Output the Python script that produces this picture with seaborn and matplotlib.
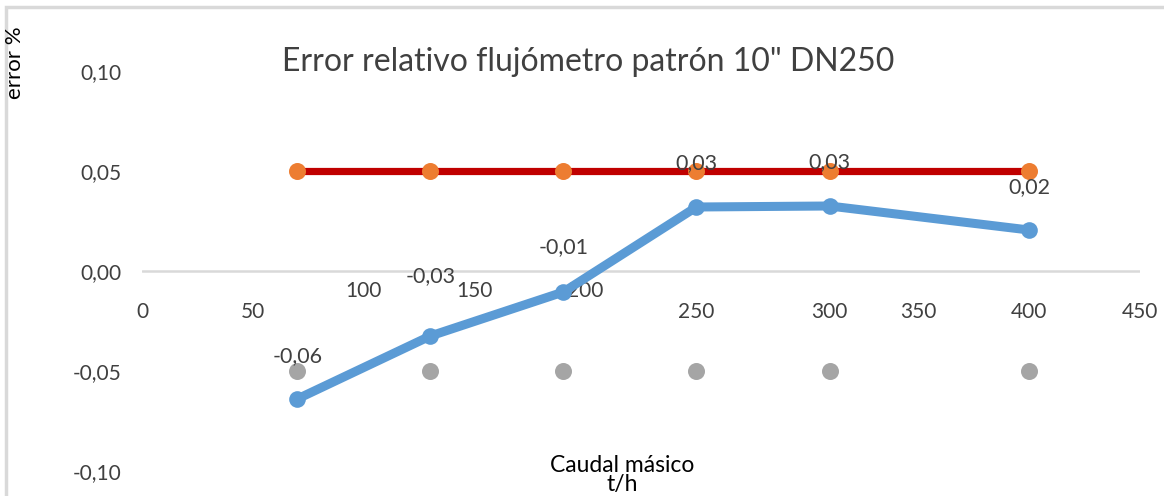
import matplotlib
matplotlib.use("Agg")
import matplotlib.pyplot as plt
from matplotlib.transforms import ScaledTranslation
from matplotlib.patches import Rectangle
import seaborn as sns
import pandas as pd

# Caudal másico (t/h) and relative error (%) of the reference flowmeter
caudal = [70, 130, 190, 250, 310, 400]
error_rel = [-0.064, -0.0325, -0.0105, 0.032, 0.0325, 0.0205]
etiquetas = ["-0,06", "-0,03", "-0,01", "0,03", "0,03", "0,02"]
limite_sup = [0.05, 0.05, 0.05, 0.05, 0.05, 0.05]
limite_inf = [-0.05, -0.05, -0.05, -0.05, -0.05, -0.05]

x_ticks = [0, 50, 100, 150, 200, 250, 300, 350, 400, 450]
y_ticks = [-0.10, -0.05, 0.00, 0.05, 0.10]

df = pd.DataFrame({"caudal": caudal, "error": error_rel,
                   "sup": limite_sup, "inf": limite_inf})

sns.set_theme(style="white")
plt.rcParams["font.family"] = ["Lato", "DejaVu Sans"]
txt = "#404040"

fig = plt.figure(figsize=(11.64, 4.96), dpi=100)
ax = fig.add_axes([142 / 1164, 25 / 496, 998 / 1164, 400 / 496])

# chart-area frame
fig.add_artist(Rectangle((6 / 1164, -0.1), 1.2, (496 - 7) / 496 + 0.1,
                         transform=fig.transFigure, fill=False,
                         edgecolor="#d9d9d9", linewidth=2.5))

# limit band: red line with orange markers, grey markers at the lower limit
sns.lineplot(data=df, x="caudal", y="sup", ax=ax, color="#C00000",
             linewidth=5.2, zorder=2)
sns.scatterplot(data=df, x="caudal", y="sup", ax=ax, color="#ED7D31",
                s=150, marker="o", linewidth=0, zorder=3)
sns.scatterplot(data=df, x="caudal", y="inf", ax=ax, color="#A5A5A5",
                s=150, marker="o", linewidth=0, zorder=3)

# measured relative error
sns.lineplot(data=df, x="caudal", y="error", ax=ax, color="#5B9BD5",
             linewidth=6.5, marker="o", markersize=12,
             markeredgewidth=0, zorder=4)

label_offsets = [(0, 43), (0, 60), (0, 45), (0, 44), (0, 44), (0, 43)]
for xv, yv, lab, (dx, dy) in zip(caudal, error_rel, etiquetas, label_offsets):
    ax.annotate(lab, (xv, yv), xytext=(dx, dy), textcoords="offset pixels",
                ha="center", va="center", fontsize=15.5, color=txt, zorder=5)

ax.set_xlim(0, 450)
ax.set_ylim(-0.10, 0.10)
ax.axhline(0, color="#d9d9d9", linewidth=1.8, zorder=1)

for s in ax.spines.values():
    s.set_visible(False)

ax.spines["bottom"].set_position(("data", 0))
ax.set_xticks(x_ticks)
ax.set_xticklabels([str(v) for v in x_ticks])
ax.set_yticks(y_ticks)
ax.set_yticklabels([f"{v:.2f}".replace(".", ",") for v in y_ticks])
ax.tick_params(axis="x", length=0, pad=22, labelsize=15, labelcolor=txt)
ax.tick_params(axis="y", length=0, pad=15, labelsize=15, labelcolor=txt)

# nudge individual category labels
shifts = {100: (0, 21), 150: (0, 21), 200: (0, 21), 300: (22, 0)}
for tick, v in zip(ax.xaxis.get_major_ticks(), x_ticks):
    if v in shifts:
        dx, dy = shifts[v]
        lab = tick.label1
        lab.set_transform(lab.get_transform() +
                          ScaledTranslation(dx / 100, dy / 100, fig.dpi_scale_trans))

ax.set_xlabel("")
ax.set_ylabel("")
ax.grid(False)

fig.text(588 / 1164, 1 - 62 / 496, 'Error relativo flujómetro patrón 10" DN250',
         ha="center", va="center", fontsize=23, color=txt)
fig.text(15 / 1164, 1 - 63 / 496, "error %", rotation=90, ha="center",
         va="center", fontsize=16, color="#000000")
fig.text(622 / 1164, 1 / 496, "Caudal másico\nt/h", ha="center",
         va="bottom", fontsize=16.5, color="#000000", linespacing=0.9)

fig.savefig("out.png", dpi=100)
